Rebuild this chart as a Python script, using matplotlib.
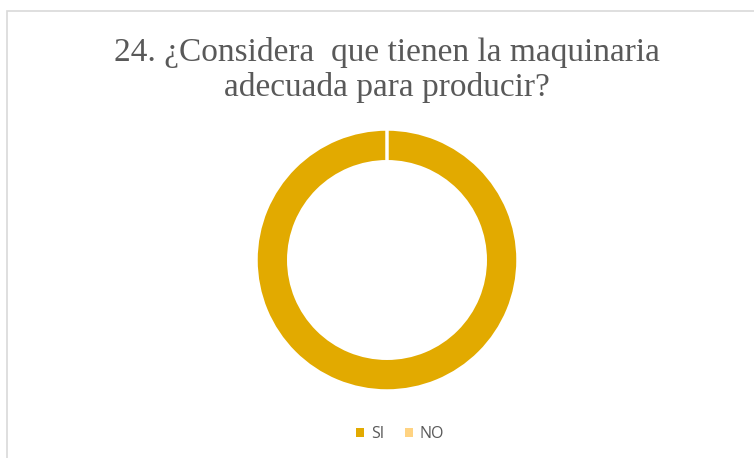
import matplotlib.pyplot as plt
from matplotlib.patches import Rectangle

title = "24. ¿Considera  que tienen la maquinaria\nadecuada para producir?"
labels = ["SI", "NO"]
values = [100, 0]
colors = ["#E2AA00", "#FFD382"]

W, H = 754, 458
fig = plt.figure(figsize=(W / 100, H / 100), dpi=100)

# chart border (clipped on the right and bottom like the screenshot)
fig.patches.append(Rectangle((6.5 / W, -0.05), 1.1, (H - 10.5) / H + 0.05,
                             transform=fig.transFigure, fill=False,
                             edgecolor="#D9D9D9", linewidth=1.2))

fig.text(387 / W, 1 - 70 / H, title, ha="center", va="center",
         fontsize=24, family="Liberation Serif", color="#595959",
         linespacing=1.2)

r = 131
ax = fig.add_axes([(387 - r) / W, 1 - (260 + r) / H, 2 * r / W, 2 * r / H])
wedges, _ = ax.pie(values, colors=colors, startangle=90, counterclock=False,
                   radius=1.0, wedgeprops=dict(width=0.25, edgecolor="white",
                                               linewidth=2.5))
ax.set_xlim(-1, 1)
ax.set_ylim(-1, 1)
ax.set_aspect("equal")
ax.axis("off")

handles = [Rectangle((0, 0), 1, 1, facecolor=c, edgecolor="none") for c in colors]
fig.legend(handles, labels, loc="center", bbox_to_anchor=(400 / W, 1 - 434 / H),
           ncol=2, frameon=False, handlelength=0.5,
           handleheight=0.5, handletextpad=0.4, columnspacing=1.3,
           prop={"family": "Open Sans", "size": 11.5}, labelcolor="#595959")

fig.savefig("out.png", dpi=100)
